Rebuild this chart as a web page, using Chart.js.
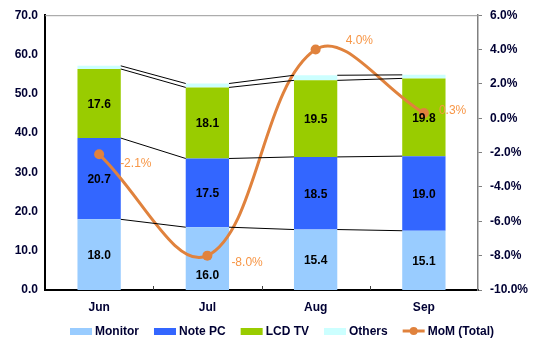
<!DOCTYPE html>
<html>
<head>
<meta charset="utf-8">
<script src="https://cdn.jsdelivr.net/npm/chart.js@4.4.0/dist/chart.umd.min.js"></script>
<style>
  html, body { margin: 0; padding: 0; background: #fff; }
  #wrap { width: 533px; height: 345px; }
</style>
</head>
<body>
<div id="wrap"><canvas id="mom-chart" width="533" height="345"></canvas></div>
<script>
// data
var months = ["Jun", "Jul", "Aug", "Sep"];
var monitor = [18.0, 16.0, 15.4, 15.1];
var notePC = [20.7, 17.5, 18.5, 19.0];
var lcdTV = [17.6, 18.1, 19.5, 19.8];
var others = [0.8, 1.0, 1.3, 0.9];
var momTotal = [-2.1, -8.0, 4.0, 0.3];

var leftTicks = [0, 10, 20, 30, 40, 50, 60, 70];
var rightTicks = [-10, -8, -6, -4, -2, 0, 2, 4, 6];

var FONT = "'Liberation Sans', Arial, sans-serif";
var ORANGE = "#E0823D";
var ORANGE_TXT = "#F79646";
var TICK_COLOR = "#000033";

// where the MoM labels sit relative to their point
var momLabelOffset = [[21, 9], [24, 7], [30, -9], [15, -2]];
// Jul monitor label was pushed down below the line in the original
var monitorLabelShift = [0, 16, 0, 0];

var extras = {
  id: 'extras',
  afterDatasetsDraw: function (chart) {
    var c = chart.ctx;
    var area = chart.chartArea;
    var xs = chart.scales.x;

    c.save();
    // connector lines between the stacked segments
    c.strokeStyle = "#000";
    c.lineWidth = 1;
    for (var d = 0; d < 4; d++) {
      var bars = chart.getDatasetMeta(d).data;
      for (var j = 0; j < bars.length - 1; j++) {
        var a = bars[j], b = bars[j + 1];
        c.beginPath();
        c.moveTo(a.x + a.width / 2, a.y);
        c.lineTo(b.x - b.width / 2, b.y);
        c.stroke();
      }
    }

    // top border of plot area
    c.strokeStyle = "#999";
    c.lineWidth = 1;
    c.beginPath();
    c.moveTo(area.left, area.top + 0.5);
    c.lineTo(area.right, area.top + 0.5);
    c.stroke();

    // category boundary ticks on the x axis
    c.strokeStyle = "#404040";
    for (var k = 1; k < months.length; k++) {
      var bx = Math.round((xs.getPixelForTick(k - 1) + xs.getPixelForTick(k)) / 2) + 0.5;
      c.beginPath();
      c.moveTo(bx, area.bottom - 4);
      c.lineTo(bx, area.bottom);
      c.stroke();
    }

    // bar value labels
    c.font = "bold 12px " + FONT;
    c.fillStyle = "#000";
    c.textAlign = "center";
    c.textBaseline = "middle";
    for (var s = 0; s < 3; s++) {
      var meta = chart.getDatasetMeta(s);
      var vals = chart.data.datasets[s].data;
      meta.data.forEach(function (bar, i) {
        var shift = s === 0 ? monitorLabelShift[i] : 0;
        c.fillText(vals[i].toFixed(1), bar.x, (bar.y + bar.base) / 2 + 1 + shift);
      });
    }

    // MoM labels
    var lm = chart.getDatasetMeta(4);
    c.font = "12px " + FONT;
    c.fillStyle = ORANGE_TXT;
    c.textAlign = "left";
    lm.data.forEach(function (pt, i) {
      var o = momLabelOffset[i];
      c.fillText(momTotal[i].toFixed(1) + "%", pt.x + o[0], pt.y + o[1]);
    });
    c.restore();
  },
  afterDraw: function (chart) {
    // legend along the bottom
    var c = chart.ctx;
    var ds = chart.data.datasets;
    c.save();
    c.font = "bold 12px " + FONT;
    c.textBaseline = "middle";
    c.textAlign = "left";
    var boxW = 22, gap = 3, itemGap = 15;
    var total = 0;
    ds.forEach(function (d, i) {
      total += boxW + gap + c.measureText(d.label).width;
      if (i < ds.length - 1) total += itemGap;
    });
    var x = Math.round(282 - total / 2);
    var y = 331;
    ds.forEach(function (d) {
      if (d.type === 'line') {
        c.strokeStyle = d.borderColor;
        c.lineWidth = 3;
        c.beginPath();
        c.moveTo(x, y);
        c.lineTo(x + boxW, y);
        c.stroke();
        c.fillStyle = d.borderColor;
        c.beginPath();
        c.arc(x + boxW / 2, y, 4, 0, Math.PI * 2);
        c.fill();
      } else {
        c.fillStyle = d.backgroundColor;
        c.fillRect(x, y - 3, boxW, 7);
      }
      x += boxW + gap;
      c.fillStyle = TICK_COLOR;
      c.fillText(d.label, x, y + 1);
      x += c.measureText(d.label).width + itemGap;
    });
    c.restore();
  }
};

var ctx = document.getElementById("mom-chart");

var barOpts = { stack: 'total', yAxisID: 'y', order: 1, barPercentage: 0.4, categoryPercentage: 1.0, borderWidth: 0 };

var data = {
  labels: months,
  datasets: [
    Object.assign({ type: 'bar', label: 'Monitor', data: monitor, backgroundColor: '#99CCFF' }, barOpts),
    Object.assign({ type: 'bar', label: 'Note PC', data: notePC, backgroundColor: '#3366FF' }, barOpts),
    Object.assign({ type: 'bar', label: 'LCD TV', data: lcdTV, backgroundColor: '#99CC00' }, barOpts),
    Object.assign({ type: 'bar', label: 'Others', data: others, backgroundColor: '#CCFFFF' }, barOpts),
    {
      type: 'line', label: 'MoM (Total)', data: momTotal, yAxisID: 'y1', order: 0,
      borderColor: ORANGE, backgroundColor: ORANGE, borderWidth: 3,
      pointRadius: 5, pointBackgroundColor: ORANGE, pointBorderWidth: 0,
      tension: 0.38, fill: false
    }
  ]
};

var momChart = new Chart(ctx, {
  data: data,
  plugins: [extras],
  options: {
    responsive: false,
    animation: false,
    layout: { padding: { top: 13, left: 0, right: 0, bottom: 0 } },
    plugins: { legend: { display: false }, tooltip: { enabled: false } },
    scales: {
      x: {
        stacked: true,
        grid: { display: false, drawTicks: false },
        border: { color: '#000', width: 2 },
        ticks: { padding: 10, color: TICK_COLOR, font: { family: FONT, size: 12, weight: 'bold' } },
        afterFit: function (s) { s.height = 55; }
      },
      y: {
        stacked: true,
        position: 'left',
        min: leftTicks[0], max: leftTicks[leftTicks.length - 1],
        afterBuildTicks: function (s) { s.ticks = leftTicks.map(function (v) { return { value: v }; }); },
        grid: { display: false, drawTicks: false },
        border: { color: '#000', width: 2 },
        ticks: {
          padding: 7, color: TICK_COLOR, font: { family: FONT, size: 12, weight: 'bold' },
          callback: function (v) { return v.toFixed(1); }
        },
        afterFit: function (s) { s.width = 45; }
      },
      y1: {
        position: 'right',
        min: rightTicks[0], max: rightTicks[rightTicks.length - 1],
        afterBuildTicks: function (s) { s.ticks = rightTicks.map(function (v) { return { value: v }; }); },
        grid: { drawOnChartArea: false, drawTicks: true, tickLength: 4, color: '#808080' },
        border: { color: '#808080', width: 1.5 },
        ticks: {
          padding: 8, color: TICK_COLOR, font: { family: FONT, size: 12, weight: 'bold' },
          callback: function (v) { return v.toFixed(1) + '%'; }
        },
        afterFit: function (s) { s.width = 55; }
      }
    }
  }
});
</script>
</body>
</html>
